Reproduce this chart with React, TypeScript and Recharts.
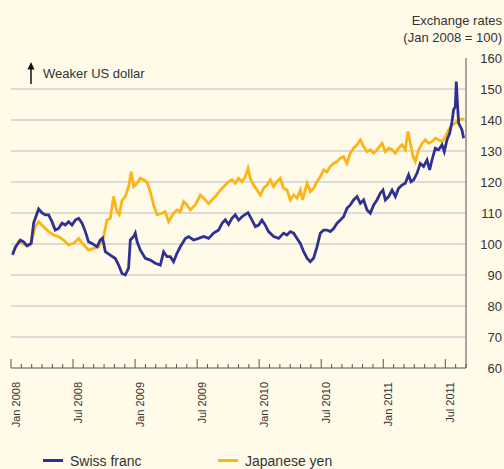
import React from "react";
import { LineChart, Line, XAxis, YAxis, ReferenceLine } from "recharts";

// Months since Jan 2008 (decimal) and index values (Jan 2008 = 100)
const swissMonths = [
  0.15, 0.42, 0.9, 1.22, 1.55, 1.96, 2.19, 2.67, 3.0, 3.32, 3.64, 3.96, 4.28, 4.6, 4.93, 5.25, 5.57, 5.9,
  6.22, 6.54, 6.87, 7.19, 7.5, 7.83, 8.32, 8.64, 8.86, 9.12, 9.6, 10.09, 10.41, 10.73, 11.05, 11.37, 11.54,
  11.86, 12.02, 12.19, 12.5, 12.99, 13.47, 13.95, 14.44, 14.76, 15.09, 15.41, 15.72, 16.05, 16.37, 16.86,
  17.18, 17.66, 18.14, 18.63, 19.11, 19.59, 20.08, 20.41, 20.72, 21.04, 21.37, 21.69, 22.01, 22.34, 22.59,
  22.92, 23.31, 23.63, 23.95, 24.27, 24.59, 24.91, 25.4, 25.88, 26.36, 26.69, 27.01, 27.33, 27.66, 27.98,
  28.3, 28.63, 28.94, 29.26, 29.59, 29.91, 30.23, 30.56, 30.88, 31.2, 31.53, 31.85, 32.16, 32.49, 32.81,
  33.13, 33.46, 33.78, 34.1, 34.43, 34.75, 35.07, 35.39, 35.71, 35.97, 36.2, 36.52, 36.85, 37.17, 37.48,
  37.81, 38.13, 38.45, 38.68, 38.94, 39.26, 39.58, 39.9, 40.23, 40.48, 40.71, 41.03, 41.35, 41.68, 41.9,
  42.16, 42.42, 42.65, 42.8, 42.97, 43.06, 43.19, 43.29, 43.45, 43.61, 43.77,
];
const swissValues = [
  96.5, 99, 101.3, 100.7, 99.4, 100.3, 106.8, 111.3, 110, 109.4, 109.4, 107.2, 104.5, 105, 106.7, 106.1, 107.2, 106.1,
  107.7, 108.3, 106.7, 104, 100.7, 100.2, 99.1, 101.3, 101.9, 97.5, 96.4, 95.3, 93.2, 90.5, 90, 92.2, 101.3,
  102.4, 103.5, 100.8, 98.1, 95.4, 94.8, 93.8, 93.2, 97.5, 95.9, 95.9, 94.3, 97, 99.1, 101.8,
  102.4, 101.3, 101.8, 102.4, 101.8, 103.5, 104.5, 106.7, 107.8, 106.3, 108.3, 109.4, 107.7, 108.8, 109.4,
  110.1, 107.7, 105.6, 106.1, 107.7, 106.1, 104, 102.4, 101.8, 103.5, 102.9, 104, 103.5, 101.8, 100.2,
  97.5, 95.4, 94.3, 95.4, 99.1, 103.5, 104.5, 104.5, 104, 105, 106.7, 107.7, 108.8, 111.5, 112.6,
  114.2, 115.3, 113.1, 114.2, 111, 109.9, 112.6, 114.2, 116.4, 117.4, 114.2, 115.3, 117.4, 115.3, 118,
  119, 119.6, 122.3, 120.1, 120.7, 122.8, 126, 125, 127.1, 123.9, 127.1, 130.9, 130.4, 132, 129.8,
  133.6, 135.7, 139.5, 143.3, 144.3, 152.4, 144.3, 139, 137.9, 136.8, 134.1,
];

const yenMonths = [
  0.15, 0.73, 1.38, 1.87, 2.35, 2.67, 3.15, 3.64, 4.12, 4.6, 5.09, 5.57, 6.05, 6.54, 7.02, 7.5, 7.99, 8.47,
  8.96, 9.28, 9.6, 9.92, 10.25, 10.47, 10.73, 11.05, 11.37, 11.63, 11.86, 12.19, 12.5, 12.82, 13.15, 13.47,
  13.79, 14.12, 14.6, 14.92, 15.24, 15.72, 16.05, 16.37, 16.69, 17.02, 17.34, 17.82, 18.31, 18.63, 19.11,
  19.44, 19.76, 20.24, 20.72, 21.04, 21.37, 21.69, 22.01, 22.34, 22.66, 22.92, 23.14, 23.46, 23.79, 24.11,
  24.43, 24.76, 25.08, 25.4, 25.72, 26.04, 26.36, 26.69, 27.01, 27.33, 27.66, 27.98, 28.2, 28.63, 28.94,
  29.26, 29.59, 29.91, 30.23, 30.56, 30.88, 31.2, 31.53, 31.85, 32.16, 32.49, 32.81, 33.13, 33.46, 33.78,
  34.1, 34.43, 34.75, 35.07, 35.39, 35.88, 36.2, 36.52, 36.85, 37.17, 37.48, 37.81, 38.13, 38.39, 38.62,
  38.88, 39.1, 39.42, 39.75, 40.07, 40.39, 40.71, 41.03, 41.35, 41.68, 42.0, 42.32, 42.65, 42.97, 43.29,
  43.61, 43.84,
];
const yenValues = [
  97, 100.7, 99.7, 99.7, 105.6, 107.2, 105.6, 104, 102.9, 102.4, 101.3, 99.7, 100.2, 101.8, 99.7, 98, 98.6, 99.1,
  102.4, 107.7, 108.3, 115.3, 110.5, 109.5, 114, 115.3, 118.5, 123.3, 118.5, 119.6, 121.2, 120.7, 120.1, 116.9,
  112.6, 109.4, 109.9, 110.4, 107.2, 109.9, 111, 110.4, 113.7, 112.6, 111, 112.6, 115.8, 114.8, 113.1,
  114.2, 115.3, 117.4, 119, 120.1, 120.7, 119.6, 121.2, 120.1, 121.7, 124.4, 121.2, 119, 117.4, 115.8,
  118, 119, 120.7, 118.5, 120.1, 121.2, 118, 117.4, 114.2, 115.8, 114.8, 117.4, 114.2, 119.6, 116.9,
  118, 120.1, 121.7, 123.9, 123.3, 125, 126, 126.6, 127.7, 128.2, 126, 129.3, 130.9, 132, 133.6,
  131.4, 129.8, 130.4, 129.3, 130.4, 132.5, 129.8, 130.9, 130.4, 129.3, 130.9, 132, 130.4, 136.3, 132.5,
  128.2, 126.6, 130.4, 132.5, 133.6, 132.5, 133, 134.1, 133.6, 133, 134.6, 136.8, 138.4, 139, 140,
  140.3, 140.3,
];

const xTickLabels = ["Jan 2008", "Jul 2008", "Jan 2009", "Jul 2009", "Jan 2010", "Jul 2010", "Jan 2011", "Jul 2011"];
const yTicks = [60, 70, 80, 90, 100, 110, 120, 130, 140, 150, 160];
const gridValues = [70, 80, 90, 100, 110, 120, 130, 140, 150];
const monthTicks = Array.from({ length: 45 }, (_, i) => i);

const seriesNames = ["Swiss franc", "Japanese yen"];
const BLUE = "#2e3192";
const YELLOW = "#fcb416";
const BG = "#fffbe8";
const FONT = "'Liberation Sans', Arial, Helvetica, sans-serif";

// Merge both series into one table keyed by month
type Row = { t: number; swiss?: number; yen?: number };
const rowMap = new Map<number, Row>();
swissMonths.forEach((t, i) => {
  const r = rowMap.get(t) || { t };
  r.swiss = swissValues[i];
  rowMap.set(t, r);
});
yenMonths.forEach((t, i) => {
  const r = rowMap.get(t) || { t };
  r.yen = yenValues[i];
  rowMap.set(t, r);
});
const chartData: Row[] = Array.from(rowMap.values()).sort((a, b) => a.t - b.t);

// default tickSize (6) + tickMargin (2) offset the tick anchor below the axis line
const TICK_OFFSET = 8;

const renderXTick = (props: any) => {
  const { x, y, payload, index } = props;
  const axisY = y - TICK_OFFSET;
  const m = Number(payload.value);
  const major = m % 6 === 0;
  const label = major ? xTickLabels[m / 6] : undefined;
  return (
    <g key={`xt-${index}`}>
      <line x1={x} x2={x} y1={axisY} y2={axisY - (major ? 9 : 4)} stroke="#555" strokeWidth={1} />
      {label && (
        <text
          transform={`translate(${x + 8.5},${axisY + 14}) rotate(-90)`}
          textAnchor="end"
          fontSize={11}
          fill="#333"
          fontFamily={FONT}
        >
          {label}
        </text>
      )}
    </g>
  );
};

const renderYTick = (props: any) => {
  const { y, payload, index } = props;
  return (
    <text key={`yt-${index}`} x={502} y={y} dy={4.5} textAnchor="end" fontSize={13} fill="#333" fontFamily={FONT}>
      {payload.value}
    </text>
  );
};

export default function App() {
  return (
    <div style={{ position: "fixed", left: 0, top: 0, width: 504, height: 469, background: BG, fontFamily: FONT }}>
      <LineChart width={504} height={469} data={chartData} margin={{ top: 58, right: 0, left: 11, bottom: 41 }}>
        <XAxis
          type="number"
          dataKey="t"
          domain={[0, 44]}
          ticks={monthTicks}
          interval={0}
          tickLine={false}
          height={60}
          axisLine={{ stroke: "#555", strokeWidth: 1 }}
          tick={renderXTick}
        />
        <YAxis
          orientation="right"
          type="number"
          domain={[60, 160]}
          ticks={yTicks}
          interval={0}
          width={38}
          tickLine={false}
          axisLine={{ stroke: "#888", strokeWidth: 1.5 }}
          tick={renderYTick}
        />
        {gridValues.map((v) => (
          <ReferenceLine key={v} y={v} stroke="#dcdcd6" strokeWidth={2} />
        ))}
        <Line
          dataKey="yen"
          name={seriesNames[1]}
          type="linear"
          stroke={YELLOW}
          strokeWidth={2.8}
          dot={false}
          connectNulls
          isAnimationActive={false}
        />
        <Line
          dataKey="swiss"
          name={seriesNames[0]}
          type="linear"
          stroke={BLUE}
          strokeWidth={2.8}
          dot={false}
          connectNulls
          isAnimationActive={false}
        />
      </LineChart>
      <svg width={504} height={469} style={{ position: "absolute", left: 0, top: 0, pointerEvents: "none" }}>
        <text x={502} y={25} textAnchor="end" fontSize={13} fill="#333" fontFamily={FONT}>
          Exchange rates
        </text>
        <text x={502} y={42} textAnchor="end" fontSize={13} fill="#333" fontFamily={FONT}>
          (Jan 2008 = 100)
        </text>
        <line x1={31} x2={31} y1={84} y2={68} stroke="#111" strokeWidth={1.5} />
        <polygon points="31,62 27.5,69.5 34.5,69.5" fill="#111" />
        <text x={43} y={78} fontSize={13} fill="#333" fontFamily={FONT}>
          Weaker US dollar
        </text>
        <g fontFamily={FONT} fontSize={14} fill="#333">
          <line x1={43} x2={63} y1={460.5} y2={460.5} stroke={BLUE} strokeWidth={3} />
          <text x={70} y={465.5}>{seriesNames[0]}</text>
          <line x1={218} x2={238} y1={460.5} y2={460.5} stroke={YELLOW} strokeWidth={3} />
          <text x={245} y={465.5}>{seriesNames[1]}</text>
        </g>
      </svg>
    </div>
  );
}
